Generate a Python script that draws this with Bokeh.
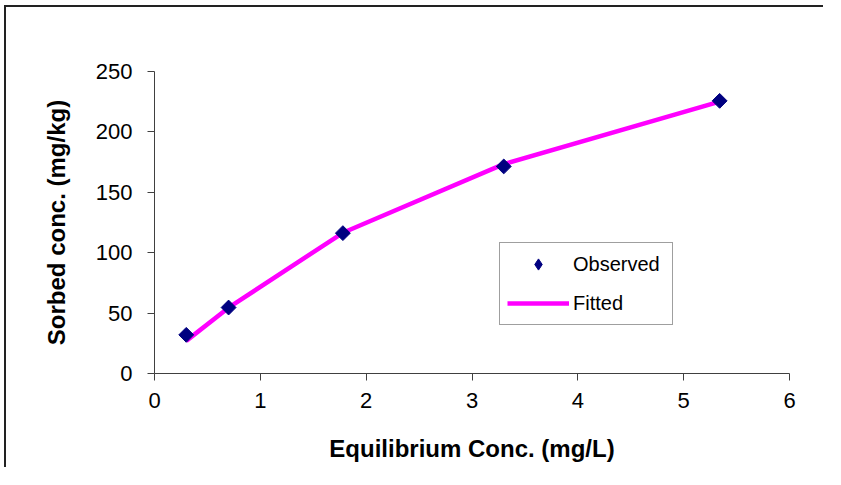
import math
from bokeh.plotting import figure
from bokeh.models import Range1d, Legend, LegendItem, FixedTicker
from bokeh.embed import file_html
from bokeh.resources import INLINE

# Data
conc = [0.30, 0.70, 1.78, 3.30, 5.34]
observed = [32.0, 54.6, 116.2, 171.4, 225.7]
fitted = [27.0, 54.5, 116.5, 173.3, 225.0]
x_ticks = [0, 1, 2, 3, 4, 5, 6]
y_ticks = [0, 50, 100, 150, 200, 250]

FONT = "Liberation Sans"
AXIS_COLOR = "#404040"

p = figure(width=819, height=462, output_backend="svg", toolbar_location=None,
           x_range=Range1d(0, 6), y_range=Range1d(0, 250),
           min_border_left=148, min_border_right=36,
           min_border_top=64, min_border_bottom=96)
p.styles = {"border-left": "2px solid #222222", "border-top": "2px solid #222222",
            "position": "relative", "left": "4px", "top": "5px"}

p.grid.visible = False
p.outline_line_color = None
p.background_fill_color = "white"
p.border_fill_color = "white"

line_r = p.line(conc, fitted, line_color="#FF00FF", line_width=4.5)
pts_r = p.scatter(conc, observed, marker="square", angle=math.pi / 4, size=10.5,
                  fill_color="#000080", line_color="#000080")
# legend-only stand-in for the diamond (legend markers are drawn unrotated)
pts_leg = p.scatter(conc, observed, marker="diamond", fill_color="#000080",
                    line_color="#000080", visible=False)

for ax in (p.xaxis[0], p.yaxis[0]):
    ax.axis_line_color = AXIS_COLOR
    ax.major_tick_line_color = AXIS_COLOR
    ax.minor_tick_line_color = None
    ax.major_tick_in = 0
    ax.major_tick_out = 7
    ax.major_label_text_font = FONT
    ax.major_label_text_font_size = "22px"
    ax.major_label_text_color = "#000000"
    ax.axis_label_text_font = FONT
    ax.axis_label_text_font_size = "24px"
    ax.axis_label_text_font_style = "bold"
    ax.axis_label_text_color = "#000000"

p.xaxis[0].ticker = FixedTicker(ticks=x_ticks)
p.yaxis[0].ticker = FixedTicker(ticks=y_ticks)
p.xaxis[0].axis_label = "Equilibrium Conc. (mg/L)"
p.yaxis[0].axis_label = "Sorbed conc. (mg/kg)"
p.xaxis[0].major_label_standoff = 12
p.yaxis[0].major_label_standoff = 15
p.xaxis[0].axis_label_standoff = 24
p.yaxis[0].axis_label_standoff = 23

legend = Legend(items=[LegendItem(label="Observed", renderers=[pts_leg]),
                       LegendItem(label="Fitted", renderers=[line_r])],
                location=(345, 48))
legend.label_text_font = FONT
legend.label_text_font_size = "20px"
legend.label_text_color = "#000000"
legend.border_line_color = AXIS_COLOR
legend.border_line_width = 1
legend.padding = 7
legend.margin = 0
legend.spacing = 11
legend.glyph_width = 62
legend.glyph_height = 28
legend.label_height = 28
legend.label_width = 92
legend.label_standoff = 4
legend.background_fill_alpha = 1.0
p.add_layout(legend, "center")

open("out.html", "w").write(file_html(p, INLINE))
